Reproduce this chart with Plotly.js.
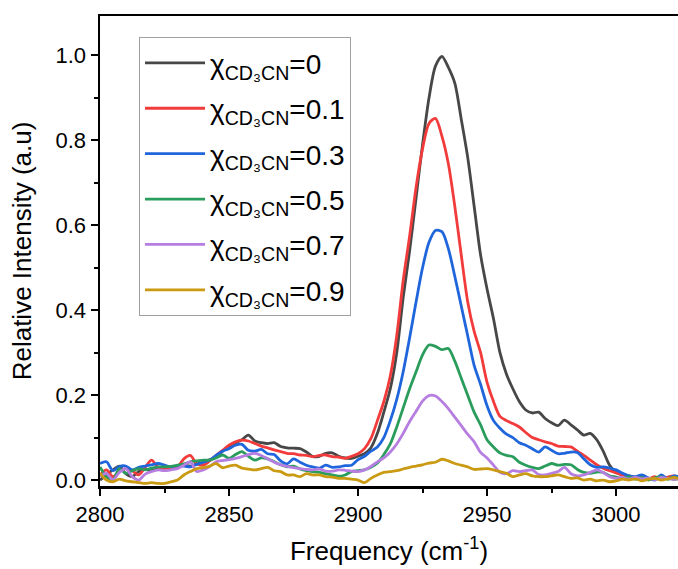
<!DOCTYPE html>
<html><head><meta charset="utf-8">
<script src="https://cdn.plot.ly/plotly-3.0.1.min.js"></script>
<style>html,body{margin:0;padding:0;background:#fff}</style>
</head><body><div id="chart" style="width:678px;height:569px"></div>
<script>
// Frequency grid (cm^-1)
const freq = [
2800,2802.5,2805,2807.5,2810,2812.5,2815,2817.5,2820,2822.5,
2825,2827.5,2830,2832.5,2835,2837.5,2840,2842.5,2845,2847.5,
2850,2852.5,2855,2857.5,2860,2862.5,2865,2867.5,2870,2872.5,
2875,2877.5,2880,2882.5,2885,2887.5,2890,2892.5,2895,2897.5,
2900,2902.5,2905,2907.5,2910,2912.5,2915,2917.5,2920,2922.5,
2925,2927.5,2930,2932.5,2935,2937.5,2940,2942.5,2945,2947.5,
2950,2952.5,2955,2957.5,2960,2962.5,2965,2967.5,2970,2972.5,
2975,2977.5,2980,2982.5,2985,2987.5,2990,2992.5,2995,2997.5,
3000,3002.5,3005,3007.5,3010,3012.5,3015,3017.5,3020,3022.5,
3025];

const labels = ["0","0.1","0.3","0.5","0.7","0.9"];
const colors = ["#474747","#f23b3b","#1f66dc","#2a9d5c","#b57ee0","#c99a12"];

const x00 = [
0.000,0.012,0.024,0.033,0.015,0.008,0.020,0.025,0.022,0.028,
0.030,0.028,0.032,0.035,0.033,0.038,0.042,0.048,0.055,0.068,
0.080,0.088,0.095,0.106,0.092,0.088,0.086,0.088,0.079,0.076,
0.075,0.074,0.066,0.055,0.056,0.063,0.064,0.056,0.052,0.051,
0.056,0.062,0.076,0.110,0.160,0.215,0.300,0.430,0.540,0.665,
0.790,0.900,0.975,0.998,0.972,0.935,0.850,0.760,0.645,0.530,
0.450,0.380,0.300,0.250,0.215,0.185,0.165,0.158,0.160,0.145,
0.135,0.128,0.141,0.130,0.118,0.106,0.110,0.095,0.068,0.035,
0.018,0.012,0.010,0.005,0.008,0.002,0.006,0.003,0.005,0.002,
0.004];
const x01 = [
0.012,0.024,0.008,0.020,0.027,0.022,0.012,0.030,0.047,0.030,
0.027,0.030,0.031,0.050,0.058,0.038,0.035,0.045,0.058,0.070,
0.082,0.090,0.094,0.092,0.086,0.080,0.076,0.071,0.067,0.063,
0.062,0.059,0.058,0.055,0.058,0.059,0.055,0.054,0.051,0.056,
0.062,0.074,0.098,0.140,0.185,0.245,0.340,0.470,0.575,0.690,
0.780,0.840,0.852,0.810,0.745,0.645,0.530,0.420,0.350,0.300,
0.230,0.185,0.150,0.140,0.133,0.125,0.112,0.100,0.095,0.090,
0.086,0.080,0.079,0.078,0.068,0.058,0.047,0.036,0.028,0.022,
0.017,0.012,0.008,0.004,0.010,0.003,0.008,0.002,0.007,0.010,
0.004];
const x03 = [
0.039,0.043,0.022,0.032,0.033,0.024,0.030,0.033,0.036,0.039,
0.035,0.031,0.034,0.033,0.031,0.037,0.042,0.047,0.058,0.068,
0.074,0.082,0.084,0.070,0.068,0.072,0.062,0.060,0.045,0.038,
0.050,0.042,0.035,0.031,0.028,0.035,0.030,0.031,0.034,0.035,
0.048,0.056,0.068,0.078,0.100,0.140,0.190,0.255,0.335,0.420,
0.500,0.560,0.588,0.585,0.545,0.480,0.410,0.340,0.270,0.225,
0.175,0.140,0.122,0.108,0.100,0.088,0.082,0.074,0.066,0.078,
0.070,0.062,0.063,0.066,0.065,0.050,0.036,0.030,0.031,0.028,
0.024,0.016,0.010,0.008,0.012,0.005,0.000,0.012,0.003,0.010,
0.006];
const x05 = [
0.031,0.008,0.000,0.027,0.016,0.022,0.027,0.024,0.028,0.031,
0.031,0.032,0.035,0.038,0.043,0.045,0.047,0.047,0.052,0.059,
0.051,0.060,0.067,0.056,0.047,0.052,0.050,0.043,0.036,0.031,
0.033,0.026,0.022,0.020,0.018,0.015,0.012,0.009,0.012,0.020,
0.022,0.024,0.030,0.040,0.060,0.085,0.125,0.170,0.215,0.255,
0.295,0.318,0.315,0.307,0.310,0.280,0.240,0.200,0.160,0.130,
0.095,0.078,0.064,0.058,0.055,0.042,0.035,0.030,0.027,0.033,
0.039,0.035,0.037,0.036,0.025,0.018,0.016,0.019,0.018,0.010,
0.007,0.004,0.008,0.002,0.006,0.000,0.005,0.008,0.002,0.006,
0.003];
const x07 = [
0.008,0.016,0.000,0.018,0.027,0.008,0.000,0.014,0.020,0.024,
0.022,0.024,0.027,0.035,0.043,0.020,0.024,0.032,0.043,0.046,
0.048,0.051,0.055,0.060,0.063,0.058,0.050,0.042,0.036,0.032,
0.029,0.027,0.025,0.024,0.026,0.021,0.021,0.024,0.023,0.021,
0.020,0.024,0.032,0.043,0.052,0.066,0.085,0.110,0.138,0.162,
0.186,0.199,0.198,0.185,0.168,0.148,0.128,0.108,0.090,0.065,
0.052,0.035,0.018,0.015,0.022,0.020,0.022,0.024,0.013,0.012,
0.016,0.020,0.030,0.015,0.010,0.012,0.018,0.024,0.018,0.008,
0.004,0.006,0.002,0.007,0.003,0.005,0.001,0.006,0.004,0.002,
0.005];
const x09 = [
0.016,0.000,-0.004,0.002,-0.002,-0.004,-0.006,-0.008,-0.006,-0.008,
-0.008,-0.004,0.000,0.012,0.020,0.027,0.029,0.033,0.039,0.029,
0.033,0.035,0.028,0.026,0.024,0.027,0.030,0.022,0.020,0.012,
0.012,0.008,0.015,0.012,0.012,0.008,0.007,0.004,0.004,0.002,
0.000,-0.006,0.004,0.012,0.018,0.020,0.022,0.026,0.030,0.033,
0.036,0.040,0.042,0.049,0.045,0.039,0.035,0.031,0.025,0.026,
0.027,0.024,0.020,0.016,0.008,0.012,0.015,0.010,0.008,0.008,
0.010,0.012,0.008,0.004,0.005,0.000,0.002,-0.002,0.000,-0.004,
-0.002,0.002,0.000,0.003,-0.002,0.002,0.004,0.000,0.003,0.006,
0.002];

const series = [x00, x01, x03, x05, x07, x09];
const FONT = "Liberation Sans, Arial, sans-serif";

const traces = series.map((ys, i) => ({
  x: freq, y: ys, type: "scatter", mode: "lines",
  name: "χ<sub>CD₃CN</sub>=" + labels[i],
  legendgroup: "g" + i,
  line: {color: colors[i], width: 2.8, shape: "spline", smoothing: 0.8}
}));

const axisCommon = {
  showline: true, linecolor: "#000", linewidth: 2.5,
  ticks: "outside", ticklen: 7, tickwidth: 2, tickcolor: "#000",
  showgrid: false, zeroline: false,
  tickfont: {family: FONT, size: 22, color: "#000"}
};

const layout = {
  width: 678, height: 569,
  margin: {l: 100, r: 0, t: 16, b: 83},
  paper_bgcolor: "#fff", plot_bgcolor: "#fff",
  font: {family: FONT, color: "#000"},
  xaxis: Object.assign({}, axisCommon, {
    range: [2800, 3024], tick0: 2800, dtick: 50, mirror: true,
    minor: {ticks: "outside", ticklen: 4, tickwidth: 2, tickcolor: "#000", dtick: 25},
    title: {text: "Frequency (cm<sup>-1</sup>)", font: {family: FONT, size: 26, color: "#000"}, standoff: 16}
  }),
  yaxis: Object.assign({}, axisCommon, {
    range: [-0.014, 1.093], tick0: 0, dtick: 0.2, tickformat: ".1f",
    minor: {ticks: "outside", ticklen: 4, tickwidth: 2, tickcolor: "#000", dtick: 0.1},
    title: {text: "Relative Intensity (a.u)", font: {family: FONT, size: 26, color: "#000"}, standoff: 17}
  }),
  showlegend: true,
  legend: {
    x: 0.0675, y: 0.955, xanchor: "left", yanchor: "top",
    bgcolor: "#fff", bordercolor: "#a0a0a0", borderwidth: 1,
    font: {family: FONT, size: 28, color: "#000"},
    tracegroupgap: 6, itemwidth: 60
  }
};

Plotly.newPlot("chart", traces, layout, {staticPlot: true});
</script></body></html>
